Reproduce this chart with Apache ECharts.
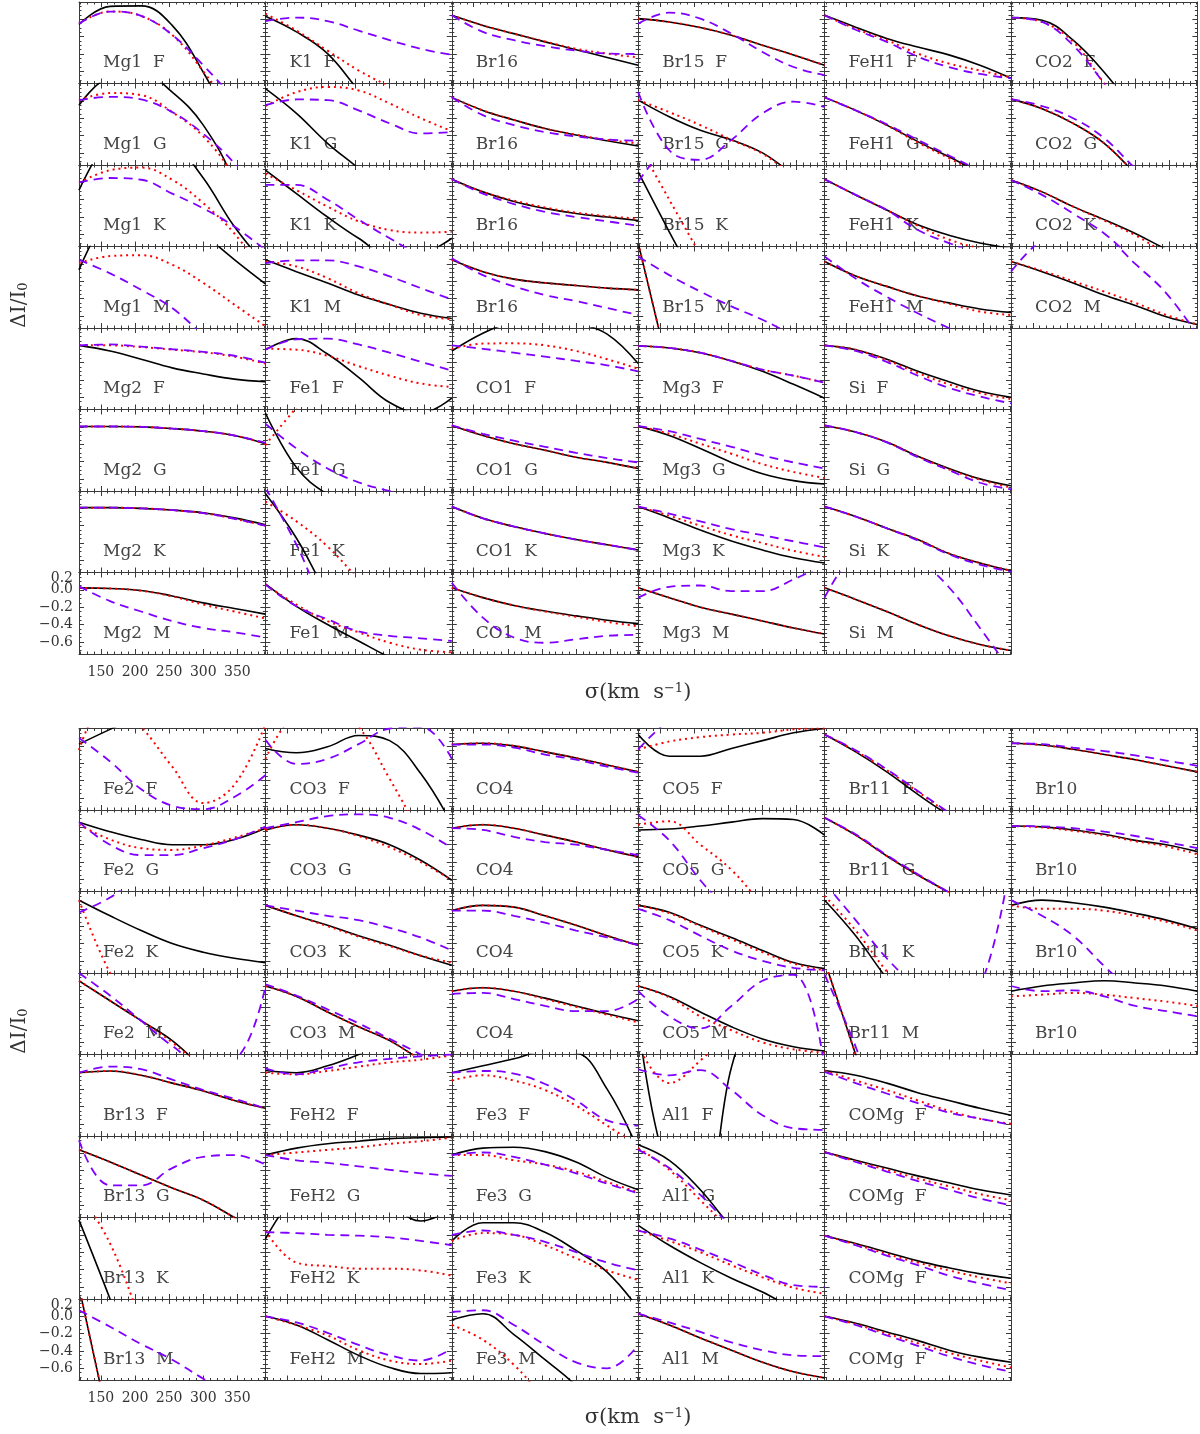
<!DOCTYPE html>
<html>
<head>
<meta charset="utf-8">
<script src="https://cdn.jsdelivr.net/npm/echarts@6/dist/echarts.min.js"></script>
<style>
  html, body { margin: 0; background: #fff; }
  #chart { width: 1200px; height: 1434px; }
</style>
</head>
<body>
<div id="chart"></div>
<script>
const sigma = [118, 163.5, 209, 254.5, 300, 345.5, 391];

// ---- upper figure ----
const labelsTop = [
  'Mg1  F', 'K1  F', 'Br16', 'Br15  F', 'FeH1  F', 'CO2  F',
  'Mg1  G', 'K1  G', 'Br16', 'Br15  G', 'FeH1  G', 'CO2  G',
  'Mg1  K', 'K1  K', 'Br16', 'Br15  K', 'FeH1  K', 'CO2  K',
  'Mg1  M', 'K1  M', 'Br16', 'Br15  M', 'FeH1  M', 'CO2  M',
  'Mg2  F', 'Fe1  F', 'CO1  F', 'Mg3  F', 'Si  F',
  'Mg2  G', 'Fe1  G', 'CO1  G', 'Mg3  G', 'Si  G',
  'Mg2  K', 'Fe1  K', 'CO1  K', 'Mg3  K', 'Si  K',
  'Mg2  M', 'Fe1  M', 'CO1  M', 'Mg3  M', 'Si  M'
];
const solidTop = [
  [-0.06, 0.15, 0.155, -0.07, -0.61, -1.3, -2.1],
  [0.035, -0.145, -0.395, -0.82, -1.22, -1.6, -2.0],
  [0.046, -0.07, -0.165, -0.26, -0.35, -0.44, -0.53],
  [0.008, -0.03, -0.095, -0.184, -0.30, -0.41, -0.53],
  [0.046, -0.09, -0.22, -0.32, -0.41, -0.53, -0.68],
  [0.02, -0.01, -0.24, -0.61, -1.07, -1.6, -2.2],
  [-0.05, 0.28, 0.32, 0.10, -0.28, -0.94, -2.0],
  [0.14, -0.145, -0.49, -0.78, -1.1, -1.4, -1.7],
  [0.04, -0.11, -0.22, -0.32, -0.395, -0.46, -0.52],
  [0.008, -0.184, -0.34, -0.45, -0.60, -0.84, -1.0],
  [0.04, -0.11, -0.28, -0.47, -0.645, -0.82, -0.95],
  [0.02, -0.09, -0.26, -0.49, -0.84, -1.2, -1.5],
  [-0.09, 0.5, 0.66, 0.47, 0.05, -0.51, -0.95],
  [0.14, -0.13, -0.40, -0.645, -0.84, -0.82, -0.645],
  [0.035, -0.11, -0.22, -0.30, -0.36, -0.40, -0.44],
  [0.12, -0.57, -1.23, -1.9, -2.6, -3.2, -3.9],
  [0.035, -0.145, -0.32, -0.49, -0.61, -0.70, -0.76],
  [0.027, -0.11, -0.28, -0.43, -0.59, -0.77, -0.91],
  [-0.07, 0.58, 0.78, 0.66, 0.35, 0.05, -0.23],
  [0.046, -0.09, -0.22, -0.36, -0.47, -0.57, -0.63],
  [0.046, -0.09, -0.176, -0.22, -0.25, -0.28, -0.30],
  [0.24, -1.25, -2.7, -4.2, -5.6, -7.0, -8.4],
  [0.027, -0.14, -0.26, -0.37, -0.45, -0.52, -0.56],
  [0.027, -0.09, -0.22, -0.36, -0.48, -0.61, -0.70],
  [0.0, -0.065, -0.16, -0.26, -0.33, -0.39, -0.42],
  [-0.05, 0.077, -0.10, -0.37, -0.66, -0.78, -0.61],
  [-0.065, 0.14, 0.28, 0.35, 0.26, 0.13, -0.21],
  [-0.007, -0.03, -0.085, -0.18, -0.30, -0.45, -0.61],
  [0.0, -0.05, -0.16, -0.30, -0.42, -0.53, -0.60],
  [0.004, 0.004, 0.0, -0.02, -0.05, -0.10, -0.195],
  [0.16, -0.47, -0.78, -0.95, -1.1, -1.2, -1.3],
  [0.016, -0.10, -0.195, -0.27, -0.35, -0.41, -0.48],
  [0.008, -0.10, -0.25, -0.41, -0.54, -0.62, -0.66],
  [0.016, -0.06, -0.176, -0.34, -0.48, -0.60, -0.68],
  [0.008, 0.008, 0.0, -0.02, -0.05, -0.11, -0.19],
  [0.17, -0.345, -0.99, -1.5, -2.0, -2.5, -3.0],
  [0.02, -0.115, -0.21, -0.29, -0.36, -0.42, -0.48],
  [0.02, -0.11, -0.25, -0.376, -0.48, -0.57, -0.63],
  [0.02, -0.095, -0.23, -0.36, -0.52, -0.63, -0.72],
  [0.023, 0.016, -0.007, -0.07, -0.15, -0.215, -0.28],
  [0.07, -0.19, -0.40, -0.59, -0.78, -0.95, -1.1],
  [0.023, -0.09, -0.18, -0.245, -0.30, -0.35, -0.39],
  [0.023, -0.09, -0.20, -0.28, -0.36, -0.44, -0.51],
  [0.023, -0.11, -0.25, -0.40, -0.53, -0.63, -0.70]
];
const dottedTop = [
  [-0.045, 0.09, 0.04, -0.18, -0.6, -1.1, -1.7],
  [0.066, -0.13, -0.36, -0.59, -0.78, -1.0, -1.2],
  [0.046, -0.07, -0.165, -0.255, -0.34, -0.395, -0.44],
  [0.008, -0.03, -0.095, -0.184, -0.30, -0.41, -0.53],
  [0.046, -0.11, -0.24, -0.395, -0.51, -0.59, -0.67],
  [0.02, -0.03, -0.26, -0.74, -1.2, -1.8, -2.4],
  [0.008, 0.09, 0.066, -0.13, -0.41, -0.87, -1.5],
  [-0.06, 0.10, 0.16, 0.12, -0.03, -0.20, -0.35],
  [0.04, -0.11, -0.22, -0.32, -0.39, -0.45, -0.49],
  [0.008, -0.13, -0.28, -0.45, -0.61, -0.86, -1.05],
  [0.04, -0.11, -0.28, -0.48, -0.66, -0.84, -0.98],
  [0.02, -0.09, -0.26, -0.49, -0.84, -1.2, -1.5],
  [-0.004, 0.14, 0.17, 0.03, -0.24, -0.59, -1.07],
  [0.10, -0.09, -0.28, -0.45, -0.55, -0.58, -0.57],
  [0.035, -0.11, -0.21, -0.29, -0.35, -0.39, -0.42],
  [0.44, -0.20, -0.84, -1.5, -2.1, -2.7, -3.3],
  [0.035, -0.145, -0.32, -0.50, -0.66, -0.76, -0.82],
  [0.027, -0.11, -0.28, -0.44, -0.61, -0.82, -0.98],
  [0.008, 0.09, 0.10, -0.01, -0.22, -0.47, -0.72],
  [0.027, -0.03, -0.165, -0.34, -0.47, -0.59, -0.64],
  [0.046, -0.09, -0.176, -0.22, -0.25, -0.28, -0.30],
  [0.24, -1.25, -2.7, -4.2, -5.6, -7.0, -8.4],
  [0.027, -0.14, -0.26, -0.37, -0.46, -0.55, -0.59],
  [0.027, -0.08, -0.20, -0.32, -0.45, -0.59, -0.70],
  [0.0, 0.0, -0.02, -0.05, -0.08, -0.13, -0.21],
  [-0.04, -0.05, -0.12, -0.24, -0.35, -0.44, -0.48],
  [-0.04, 0.02, 0.023, 0.0, -0.065, -0.16, -0.27],
  [-0.007, -0.03, -0.085, -0.18, -0.28, -0.35, -0.43],
  [0.0, -0.05, -0.17, -0.32, -0.45, -0.55, -0.62],
  [0.004, 0.004, 0.0, -0.02, -0.05, -0.10, -0.195],
  [-0.21, 0.22, 0.6, 0.8, 1.0, 1.1, 1.2],
  [0.016, -0.10, -0.195, -0.27, -0.35, -0.41, -0.48],
  [0.008, -0.08, -0.195, -0.31, -0.43, -0.52, -0.59],
  [0.016, -0.06, -0.176, -0.34, -0.49, -0.61, -0.70],
  [0.008, 0.008, 0.0, -0.02, -0.055, -0.12, -0.20],
  [0.077, -0.15, -0.44, -0.82, -1.2, -1.6, -2.0],
  [0.02, -0.115, -0.21, -0.29, -0.36, -0.42, -0.48],
  [0.02, -0.085, -0.20, -0.31, -0.40, -0.49, -0.56],
  [0.02, -0.095, -0.23, -0.36, -0.52, -0.63, -0.72],
  [0.023, 0.016, -0.01, -0.075, -0.17, -0.25, -0.33],
  [0.06, -0.17, -0.36, -0.49, -0.61, -0.69, -0.72],
  [0.023, -0.09, -0.18, -0.25, -0.31, -0.37, -0.42],
  [0.023, -0.09, -0.20, -0.28, -0.36, -0.44, -0.51],
  [0.023, -0.11, -0.25, -0.40, -0.53, -0.63, -0.70]
];
const dashedTop = [
  [-0.05, 0.09, 0.04, -0.18, -0.53, -0.93, -1.4],
  [-0.02, 0.02, -0.02, -0.13, -0.24, -0.34, -0.41],
  [0.046, -0.145, -0.24, -0.31, -0.36, -0.395, -0.40],
  [-0.05, 0.077, 0.008, -0.165, -0.376, -0.55, -0.645],
  [0.046, -0.12, -0.26, -0.43, -0.55, -0.63, -0.68],
  [0.02, -0.03, -0.30, -0.74, -1.2, -1.8, -2.4],
  [0.008, 0.046, 0.016, -0.13, -0.38, -0.72, -1.18],
  [-0.05, 0.016, 0.008, -0.11, -0.26, -0.376, -0.36],
  [0.04, -0.165, -0.28, -0.36, -0.41, -0.445, -0.46],
  [0.10, -0.57, -0.68, -0.45, -0.145, -0.01, -0.07],
  [0.04, -0.11, -0.27, -0.45, -0.63, -0.80, -0.93],
  [0.02, -0.06, -0.20, -0.43, -0.78, -1.1, -1.4],
  [0.0, 0.05, 0.03, -0.13, -0.30, -0.51, -0.78],
  [-0.03, -0.03, -0.20, -0.43, -0.645, -0.84, -0.95],
  [0.035, -0.13, -0.25, -0.34, -0.40, -0.45, -0.50],
  [0.008, 0.47, 0.8, 1.0, 1.1, 1.1, 1.1],
  [0.035, -0.145, -0.32, -0.55, -0.70, -0.82, -0.90],
  [0.027, -0.145, -0.36, -0.59, -0.91, -1.2, -1.45],
  [0.046, -0.11, -0.30, -0.51, -0.82, -1.1, -1.35],
  [0.008, 0.04, 0.04, -0.03, -0.145, -0.28, -0.41],
  [0.065, -0.13, -0.26, -0.36, -0.43, -0.51, -0.59],
  [0.085, -0.13, -0.32, -0.49, -0.645, -0.82, -0.95],
  [0.085, -0.17, -0.38, -0.57, -0.74, -0.90, -1.05],
  [-0.09, 0.28, 0.43, 0.32, 0.0, -0.34, -0.82],
  [0.0, 0.01, -0.015, -0.045, -0.075, -0.12, -0.20],
  [-0.05, 0.07, 0.077, 0.01, -0.085, -0.19, -0.29],
  [0.0, -0.04, -0.085, -0.13, -0.18, -0.23, -0.30],
  [-0.007, -0.03, -0.085, -0.18, -0.28, -0.35, -0.43],
  [0.0, -0.065, -0.19, -0.35, -0.49, -0.59, -0.67],
  [0.004, 0.004, 0.0, -0.02, -0.05, -0.10, -0.185],
  [0.035, -0.25, -0.48, -0.64, -0.74, -0.82, -0.90],
  [0.016, -0.08, -0.16, -0.23, -0.30, -0.36, -0.41],
  [0.008, -0.05, -0.14, -0.23, -0.33, -0.41, -0.48],
  [0.016, -0.06, -0.18, -0.35, -0.50, -0.645, -0.72],
  [0.008, 0.008, 0.0, -0.02, -0.055, -0.12, -0.20],
  [0.24, -0.42, -1.2, -1.7, -2.2, -2.7, -3.2],
  [0.02, -0.115, -0.21, -0.29, -0.36, -0.42, -0.48],
  [0.02, -0.06, -0.15, -0.24, -0.31, -0.38, -0.45],
  [0.02, -0.095, -0.23, -0.37, -0.53, -0.65, -0.73],
  [0.04, -0.13, -0.25, -0.36, -0.44, -0.49, -0.55],
  [0.06, -0.19, -0.34, -0.48, -0.53, -0.56, -0.59],
  [0.08, -0.32, -0.55, -0.61, -0.57, -0.53, -0.52],
  [-0.09, 0.035, 0.05, -0.015, -0.015, 0.12, 0.29],
  [-0.09, 0.43, 0.55, 0.35, 0.03, -0.44, -0.94]
];

// ---- lower figure ----
const labelsBottom = [
  'Fe2  F', 'CO3  F', 'CO4', 'CO5  F', 'Br11  F', 'Br10',
  'Fe2  G', 'CO3  G', 'CO4', 'CO5  G', 'Br11  G', 'Br10',
  'Fe2  K', 'CO3  K', 'CO4', 'CO5  K', 'Br11  K', 'Br10',
  'Fe2  M', 'CO3  M', 'CO4', 'CO5  M', 'Br11  M', 'Br10',
  'Br13  F', 'FeH2  F', 'Fe3  F', 'Al1  F', 'COMg  F',
  'Br13  G', 'FeH2  G', 'Fe3  G', 'Al1  G', 'COMg  F',
  'Br13  K', 'FeH2  K', 'Fe3  K', 'Al1  K', 'COMg  F',
  'Br13  M', 'FeH2  M', 'Fe3  M', 'Al1  M', 'COMg  F'
];
const solidBottom = [
  [0.02, 0.19, 0.35, 0.45, 0.5, 0.5, 0.5],
  [-0.03, -0.08, -0.01, 0.12, 0.06, -0.32, -0.9],
  [0.015, 0.03, 0.0, -0.07, -0.14, -0.22, -0.30],
  [0.13, -0.12, -0.12, -0.03, 0.06, 0.15, 0.2],
  [0.13, -0.07, -0.30, -0.56, -0.8, -1.0, -1.2],
  [0.03, 0.01, -0.04, -0.10, -0.16, -0.23, -0.30],
  [0.06, -0.05, -0.14, -0.2, -0.2, -0.14, -0.01],
  [-0.03, 0.03, -0.01, -0.09, -0.2, -0.38, -0.61],
  [-0.01, 0.03, -0.01, -0.09, -0.17, -0.26, -0.34],
  [-0.03, -0.02, 0.015, 0.06, 0.1, 0.09, -0.09],
  [0.11, -0.09, -0.33, -0.55, -0.75, -0.95, -1.15],
  [0.015, 0.005, -0.03, -0.08, -0.15, -0.2, -0.28],
  [0.1, -0.08, -0.25, -0.40, -0.5, -0.57, -0.62],
  [0.04, -0.08, -0.19, -0.31, -0.42, -0.54, -0.65],
  [-0.02, 0.04, 0.02, -0.08, -0.19, -0.31, -0.42],
  [0.04, -0.04, -0.19, -0.33, -0.48, -0.62, -0.69],
  [0.1, -0.31, -0.8, -1.2, -1.6, -2.0, -2.4],
  [0.04, 0.1, 0.07, 0.02, -0.05, -0.13, -0.23],
  [0.11, -0.12, -0.35, -0.58, -0.9, -1.2, -1.5],
  [0.05, -0.07, -0.25, -0.42, -0.58, -0.8, -1.0],
  [-0.01, 0.03, -0.01, -0.09, -0.18, -0.27, -0.35],
  [0.05, -0.07, -0.25, -0.42, -0.56, -0.65, -0.70],
  [0.34, -0.74, -1.82, -2.9, -4.0, -5.1, -6.2],
  [-0.01, 0.05, 0.085, 0.11, 0.085, 0.05, -0.01],
  [-0.01, 0.01, -0.04, -0.13, -0.22, -0.33, -0.42],
  [0.015, -0.01, 0.07, 0.2, 0.35, 0.4, 0.45],
  [-0.01, 0.07, 0.15, 0.24, 0.22, -0.2, -0.9],
  [0.6, -1.2, -1.4, 0.05, 1.2, 2.0, 2.5],
  [0.015, -0.04, -0.13, -0.24, -0.33, -0.42, -0.50],
  [0.04, -0.1, -0.25, -0.4, -0.54, -0.74, -0.95],
  [-0.02, 0.06, 0.11, 0.14, 0.17, 0.18, 0.19],
  [-0.02, 0.06, 0.07, 0.02, -0.1, -0.28, -0.42],
  [0.1, -0.08, -0.42, -0.85, -1.2, -1.5, -1.8],
  [0.015, -0.08, -0.17, -0.26, -0.34, -0.42, -0.48],
  [0.17, -0.74, -1.7, -2.6, -3.5, -4.4, -5.3],
  [-0.05, 0.45, 0.55, 0.5, 0.35, 0.16, 0.3],
  [-0.07, 0.14, 0.14, 0.03, -0.18, -0.43, -0.85],
  [0.11, -0.12, -0.32, -0.5, -0.66, -0.85, -1.0],
  [-0.01, -0.1, -0.2, -0.3, -0.38, -0.45, -0.5],
  [0.34, -1.31, -2.96, -4.6, -6.2, -7.9, -9.5],
  [0.0, -0.1, -0.27, -0.45, -0.59, -0.66, -0.65],
  [-0.04, 0.03, -0.21, -0.5, -0.8, -1.2, -1.6],
  [0.03, -0.1, -0.25, -0.39, -0.53, -0.64, -0.71],
  [0.0, -0.08, -0.18, -0.28, -0.39, -0.47, -0.53]
];
const dottedBottom = [
  [-0.05, 0.55, 0.22, -0.24, -0.66, -0.45, 0.25],
  [-0.15, 0.4, 0.5, 0.22, -0.38, -1.0, -1.5],
  [0.015, 0.03, 0.0, -0.07, -0.14, -0.22, -0.30],
  [-0.04, 0.05, 0.1, 0.13, 0.15, 0.19, 0.2],
  [0.13, -0.06, -0.28, -0.53, -0.78, -1.0, -1.2],
  [0.03, 0.01, -0.04, -0.10, -0.16, -0.23, -0.30],
  [0.03, -0.14, -0.24, -0.26, -0.21, -0.12, -0.01],
  [-0.03, 0.03, -0.01, -0.1, -0.23, -0.4, -0.61],
  [-0.01, 0.03, -0.01, -0.09, -0.17, -0.26, -0.34],
  [0.03, 0.07, -0.2, -0.49, -0.9, -1.3, -1.7],
  [0.11, -0.09, -0.33, -0.55, -0.75, -0.95, -1.15],
  [0.015, 0.0, -0.04, -0.09, -0.16, -0.22, -0.31],
  [0.1, -0.74, -1.3, -1.8, -2.3, -2.8, -3.3],
  [0.04, -0.08, -0.2, -0.32, -0.43, -0.54, -0.62],
  [-0.02, 0.04, 0.02, -0.08, -0.19, -0.31, -0.42],
  [0.04, -0.05, -0.2, -0.35, -0.5, -0.63, -0.71],
  [0.15, -0.25, -0.72, -1.1, -1.5, -1.9, -2.3],
  [0.04, 0.0, 0.0, -0.02, -0.08, -0.15, -0.25],
  [0.11, -0.12, -0.35, -0.6, -0.9, -1.2, -1.5],
  [0.05, -0.07, -0.25, -0.42, -0.58, -0.8, -1.0],
  [-0.01, 0.03, -0.01, -0.1, -0.19, -0.28, -0.37],
  [0.05, -0.08, -0.3, -0.46, -0.6, -0.68, -0.72],
  [0.34, -0.74, -1.82, -2.9, -4.0, -5.1, -6.2],
  [-0.07, -0.05, -0.03, -0.05, -0.09, -0.13, -0.18],
  [-0.01, 0.01, -0.04, -0.13, -0.22, -0.33, -0.42],
  [-0.01, -0.03, 0.01, 0.06, 0.11, 0.14, 0.19],
  [-0.1, -0.04, -0.1, -0.21, -0.39, -0.62, -0.85],
  [0.3, -0.13, 0.13, 0.5, 0.8, 1.0, 1.0],
  [0.015, -0.1, -0.21, -0.33, -0.45, -0.54, -0.6],
  [0.04, -0.1, -0.25, -0.4, -0.54, -0.74, -0.95],
  [-0.02, 0.01, 0.04, 0.07, 0.11, 0.14, 0.18],
  [-0.02, -0.02, -0.08, -0.13, -0.21, -0.33, -0.45],
  [0.06, -0.19, -0.54, -0.9, -1.3, -1.6, -1.9],
  [0.015, -0.09, -0.19, -0.29, -0.38, -0.47, -0.54],
  [0.5, -0.1, -1.0, -1.9, -2.8, -3.7, -4.6],
  [0.05, -0.32, -0.36, -0.39, -0.39, -0.41, -0.47],
  [-0.07, 0.02, 0.0, -0.12, -0.27, -0.41, -0.52],
  [0.05, -0.07, -0.2, -0.35, -0.49, -0.61, -0.68],
  [-0.01, -0.11, -0.22, -0.32, -0.41, -0.49, -0.56],
  [0.34, -1.31, -2.96, -4.6, -6.2, -7.9, -9.5],
  [0.0, -0.1, -0.22, -0.39, -0.51, -0.55, -0.51],
  [-0.1, -0.27, -0.56, -0.95, -1.3, -1.7, -2.1],
  [0.03, -0.1, -0.25, -0.39, -0.53, -0.64, -0.71],
  [0.0, -0.09, -0.2, -0.31, -0.42, -0.51, -0.59]
];
const dashedBottom = [
  [0.09, -0.18, -0.50, -0.69, -0.73, -0.59, -0.34],
  [0.07, -0.21, -0.15, 0.02, 0.2, 0.22, -0.15],
  [0.015, 0.015, -0.02, -0.10, -0.16, -0.24, -0.31],
  [-0.04, 0.3, 0.5, 0.6, 0.6, 0.6, 0.6],
  [0.13, -0.05, -0.27, -0.52, -0.77, -1.0, -1.2],
  [0.03, 0.02, -0.02, -0.06, -0.11, -0.17, -0.23],
  [0.06, -0.2, -0.32, -0.32, -0.24, -0.14, 0.01],
  [-0.01, 0.06, 0.13, 0.15, 0.11, -0.03, -0.24],
  [-0.01, -0.03, -0.11, -0.17, -0.2, -0.26, -0.32],
  [0.14, -0.15, -0.61, -1.0, -1.4, -1.8, -2.2],
  [0.11, -0.08, -0.32, -0.54, -0.75, -0.95, -1.15],
  [0.015, 0.01, -0.01, -0.05, -0.1, -0.17, -0.24],
  [-0.04, 0.13, 0.4, 0.5, 0.5, 0.5, 0.5],
  [0.04, -0.02, -0.08, -0.13, -0.22, -0.33, -0.48],
  [-0.02, -0.02, -0.08, -0.16, -0.25, -0.33, -0.42],
  [0.0, -0.13, -0.31, -0.48, -0.6, -0.68, -0.71],
  [0.3, -0.13, -0.57, -0.9, -1.1, -0.9, 0.6],
  [0.1, -0.08, -0.31, -0.66, -1.0, -1.4, -1.8],
  [0.2, -0.06, -0.35, -0.64, -0.85, -0.8, 0.04],
  [0.07, -0.06, -0.22, -0.38, -0.56, -0.74, -0.95],
  [-0.04, -0.03, -0.1, -0.18, -0.24, -0.24, -0.1],
  [-0.01, -0.3, -0.44, -0.18, 0.11, 0.18, -0.9],
  [0.18, -0.65, -1.7, -2.7, -3.7, -4.7, -5.7],
  [0.05, -0.01, 0.0, -0.07, -0.18, -0.24, -0.30],
  [-0.01, 0.06, 0.03, -0.09, -0.21, -0.31, -0.42],
  [0.04, -0.03, 0.04, 0.11, 0.15, 0.18, 0.2],
  [-0.01, 0.01, -0.02, -0.14, -0.33, -0.56, -0.62],
  [0.03, -0.04, 0.02, -0.21, -0.5, -0.65, -0.67],
  [0.0, -0.13, -0.25, -0.36, -0.47, -0.54, -0.61],
  [0.15, -0.37, -0.37, -0.17, -0.04, -0.02, -0.13],
  [-0.02, -0.08, -0.11, -0.15, -0.19, -0.23, -0.26],
  [-0.02, 0.01, -0.04, -0.13, -0.23, -0.35, -0.46],
  [0.04, -0.17, -0.48, -0.85, -1.2, -1.5, -1.8],
  [0.015, -0.1, -0.21, -0.32, -0.42, -0.52, -0.6],
  [0.6, 0.8, 1.0, 1.1, 1.2, 1.2, 1.2],
  [0.03, 0.02, 0.0, -0.01, -0.03, -0.07, -0.12],
  [0.0, 0.05, 0.0, -0.08, -0.2, -0.32, -0.41],
  [0.05, -0.04, -0.17, -0.31, -0.46, -0.58, -0.6],
  [-0.01, -0.12, -0.24, -0.35, -0.47, -0.56, -0.64],
  [0.07, -0.12, -0.32, -0.5, -0.72, -0.92, -1.1],
  [0.0, -0.07, -0.19, -0.33, -0.45, -0.51, -0.37],
  [0.05, 0.07, -0.1, -0.33, -0.53, -0.6, -0.33],
  [0.03, -0.07, -0.18, -0.3, -0.39, -0.45, -0.46],
  [0.0, -0.1, -0.22, -0.34, -0.46, -0.56, -0.64]
];

// panel layout
const colLeft = 79;
const colWidth = 186.4;
const rowHeight = 81.5;
const axisColor = '#3a3a3a';
const serif = '"DejaVu Serif", "Liberation Serif", serif';

const grid = [], xAxis = [], yAxis = [], series = [], graphic = [];

function fmtY(v) {
  return (v < 0 ? '\u2212' : '') + Math.abs(v).toFixed(1);
}

function makeX(gi, position, showLabel) {
  return {
    type: 'value', gridIndex: gi, position: position,
    min: 118, max: 391, splitNumber: 5,
    axisLine: { show: true, onZero: false, lineStyle: { color: axisColor, width: 1 } },
    axisTick: { show: true, inside: true, length: 5, lineStyle: { color: axisColor } },
    minorTick: { show: true, splitNumber: 5, length: 2.5, lineStyle: { color: axisColor } },
    axisLabel: {
      show: showLabel, showMinLabel: false, showMaxLabel: false, margin: 11,
      fontFamily: serif, fontSize: 14, color: '#333'
    },
    splitLine: { show: false }
  };
}

function makeY(gi, position, showLabel) {
  return {
    type: 'value', gridIndex: gi, position: position,
    min: -0.74, max: 0.2, splitNumber: 5,
    axisLine: { show: true, onZero: false, lineStyle: { color: axisColor, width: 1 } },
    axisTick: { show: true, inside: true, length: 5, lineStyle: { color: axisColor } },
    minorTick: { show: true, splitNumber: 4, length: 2.5, lineStyle: { color: axisColor } },
    axisLabel: {
      show: showLabel, showMinLabel: false, showMaxLabel: false, margin: 6,
      fontFamily: serif, fontSize: 14, color: '#333', formatter: fmtY
    },
    splitLine: { show: false }
  };
}

// label-only axis carrying the "0.2" at the top, nudged down into the frame
function makeTopLabelY(gi) {
  return {
    type: 'value', gridIndex: gi, position: 'left',
    min: -0.74, max: 0.2, splitNumber: 5,
    axisLine: { show: false }, axisTick: { show: false }, splitLine: { show: false },
    axisLabel: {
      show: true, showMinLabel: false, showMaxLabel: true, margin: 6,
      fontFamily: serif, fontSize: 14, color: '#333',
      formatter: function (v) { return v > 0.15 ? '{t|' + fmtY(v) + '}' : ''; },
      rich: { t: { fontFamily: serif, fontSize: 14, color: '#333', padding: [12, 0, 0, 0] } }
    }
  };
}

function addBlock(blockTop, labels, solid, dotted, dashed) {
  labels.forEach(function (name, i) {
    const row = i < 24 ? Math.floor(i / 6) : 4 + Math.floor((i - 24) / 5);
    const col = i < 24 ? i % 6 : (i - 24) % 5;
    const left = colLeft + col * colWidth;
    const top = blockTop + row * rowHeight;
    const gi = grid.length;
    const labelled = row === 7 && col === 0;

    grid.push({ left: left, top: top, width: colWidth, height: rowHeight, containLabel: false });
    const xi = xAxis.length;
    xAxis.push(makeX(gi, 'bottom', labelled), makeX(gi, 'top', false));
    const yi = yAxis.length;
    yAxis.push(makeY(gi, 'left', labelled), makeY(gi, 'right', false));
    if (labelled) yAxis.push(makeTopLabelY(gi));

    const styles = [
      [solid[i], { color: '#000', width: 1.6, type: 'solid' }],
      [dotted[i], { color: '#ff0000', width: 2, type: [2, 4], cap: 'butt' }],
      [dashed[i], { color: '#7f00ff', width: 1.8, type: [9, 6] }]
    ];
    styles.forEach(function (s) {
      series.push({
        type: 'line', xAxisIndex: xi, yAxisIndex: yi,
        data: sigma.map(function (x, j) { return [x, s[0][j]]; }),
        symbol: 'none', smooth: 0.4, clip: true, silent: true,
        lineStyle: s[1]
      });
    });

    graphic.push({
      type: 'text', x: left + 24, y: top + 61, silent: true, z: 1,
      style: { text: name, fontFamily: serif, fontSize: 17, fill: '#444', verticalAlign: 'middle' }
    });
  });
}

addBlock(2, labelsTop, solidTop, dottedTop, dashedTop);
addBlock(728.5, labelsBottom, solidBottom, dottedBottom, dashedBottom);

// axis titles for both figures
[[305, 693], [1031, 1418]].forEach(function (p) {
  graphic.push({
    type: 'text', x: 20, y: p[0], rotation: Math.PI / 2, silent: true,
    style: {
      text: '{a|\u0394I/I}{s|0}', align: 'center', verticalAlign: 'middle',
      rich: {
        a: { fontFamily: serif, fontSize: 20, fill: '#333' },
        s: { fontFamily: serif, fontSize: 13, fill: '#333', verticalAlign: 'bottom', padding: [8, 0, 0, 0] }
      }
    }
  });
  graphic.push({
    type: 'text', x: 638, y: p[1], silent: true,
    style: {
      text: '{a|\u03c3(km  s}{s|\u22121}{a|)}', align: 'center', verticalAlign: 'middle',
      rich: {
        a: { fontFamily: serif, fontSize: 21, fill: '#333' },
        s: { fontFamily: serif, fontSize: 13, fill: '#333', verticalAlign: 'top', padding: [0, 0, 8, 0] }
      }
    }
  });
});

const myChart = echarts.init(document.getElementById('chart'), null, { renderer: 'canvas' });
myChart.setOption({
  animation: false,
  backgroundColor: '#fff',
  grid: grid,
  xAxis: xAxis,
  yAxis: yAxis,
  series: series,
  graphic: graphic
});
</script>
</body>
</html>
